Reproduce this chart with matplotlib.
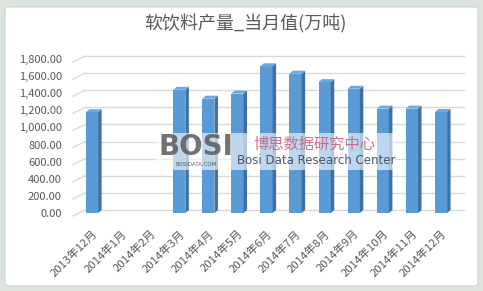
import matplotlib
matplotlib.use("Agg")
import matplotlib.pyplot as plt
import numpy as np
from matplotlib.patches import Polygon, FancyBboxPatch, Rectangle
from matplotlib.transforms import ScaledTranslation

plt.rcParams['font.family'] = ['Noto Sans CJK SC', 'DejaVu Sans']

title = "软饮料产量_当月值(万吨)"
categories = ["2013年12月", "2014年1月", "2014年2月", "2014年3月", "2014年4月",
              "2014年5月", "2014年6月", "2014年7月", "2014年8月", "2014年9月",
              "2014年10月", "2014年11月", "2014年12月"]
values = [1178, np.nan, np.nan, 1440, 1336, 1395, 1715, 1628, 1530, 1452, 1220, 1220, 1180]
yticks = [0, 200, 400, 600, 800, 1000, 1200, 1400, 1600, 1800]

W, H = 483, 291
dpi = 100
fig = plt.figure(figsize=(W / dpi, H / dpi), dpi=dpi, facecolor='#dde4de')

# white card
card = FancyBboxPatch((5 / W, 5 / H), (W - 10) / W, (H - 12) / H,
                      boxstyle="round,pad=0,rounding_size=0.01",
                      transform=fig.transFigure, facecolor='white',
                      edgecolor='#d0d6d0', linewidth=0.8, zorder=-5)
fig.patches.append(card)

def px_box(l, t, r, b):
    return [l / W, 1 - b / H, (r - l) / W, (b - t) / H]

ax = fig.add_axes(px_box(73, 59, 463, 213))
ax.set_zorder(1)
ax.set_facecolor('none')
x = np.arange(len(categories))
ax.set_xlim(-0.653, 12.757)
ax.set_ylim(0, 1800)
for s in ax.spines.values():
    s.set_visible(False)

fig.canvas.draw()
p0 = ax.transData.transform((0, 0))
p1 = ax.transData.transform((1, 1))
sx = p1[0] - p0[0]   # px per x unit
sy = p1[1] - p0[1]   # px per y unit

def dx(px):
    return px / sx

def dy(px):
    return px / sy

# back-wall gridlines with slanted floor-side segments
grid_c = '#d9d9d9'
xl = ax.get_xlim()
for v in yticks:
    ax.plot([xl[0] + dx(12), 12.5 + dx(8)], [v + dy(3), v + dy(3)], color=grid_c, lw=1.0,
            clip_on=False, zorder=1)
    ax.plot([xl[0], xl[0] + dx(12)], [v - dy(3), v + dy(3)], color=grid_c, lw=1.0,
            clip_on=False, zorder=1)

# 3D-ish bars
bw = 0.42
depth_x, depth_y = dx(3.5), dy(3.0)
front_c = '#5b9bd5'
side_c = '#3f71a0'
top_c = '#6fa7dc'
ax.bar(x, values, width=bw, color=front_c, edgecolor='none', zorder=3)
for xi, v in zip(x, values):
    if np.isnan(v):
        continue
    l, r = xi - bw / 2, xi + bw / 2
    side = Polygon([(r, 0), (r + depth_x, depth_y), (r + depth_x, v + depth_y), (r, v)],
                   closed=True, facecolor=side_c, edgecolor='none', zorder=3)
    top = Polygon([(l, v), (l + depth_x, v + depth_y), (r + depth_x, v + depth_y), (r, v)],
                  closed=True, facecolor=top_c, edgecolor='none', zorder=3)
    ax.add_patch(side)
    ax.add_patch(top)

# ticks
ax.set_yticks(yticks)
ax.set_yticklabels([f"{v:,.2f}" for v in yticks], fontsize=8, color='#595959')
off = ScaledTranslation(0, -3 / dpi, fig.dpi_scale_trans)
for lab in ax.get_yticklabels():
    lab.set_transform(lab.get_transform() + off)
ax.tick_params(axis='y', length=0, pad=8)

ax.set_xticks(x)
ax.set_xticklabels(categories, rotation=45, ha='right', va='top',
                   rotation_mode='anchor', fontsize=8.2, color='#595959')
ax.tick_params(axis='x', length=0, pad=11)

# title
fig.text(245 / W, 1 - 24 / H, title, ha='center', va='center', fontsize=13, color='#595959')

# watermark
fig.patches.append(Rectangle((155 / W, 1 - 170 / H), 240 / W, 37 / H, transform=fig.transFigure,
                             facecolor='white', alpha=0.6, edgecolor='none', zorder=5))
fig.text(196 / W, 1 - 147 / H, "BOSI", ha='center', va='center', fontsize=20, fontweight='bold',
         color='#5a5a5a', alpha=0.85, zorder=6, family=['DejaVu Sans'])
fig.text(196 / W, 1 - 165 / H, "BOSIDATA.COM", ha='center', va='center', fontsize=4,
         color='#444444', alpha=0.85, zorder=6, family=['DejaVu Sans'])
fig.text(314 / W, 1 - 144 / H, "博思数据研究中心", ha='center', va='center', fontsize=11,
         color='#c65b78', alpha=0.85, zorder=6)
fig.text(316 / W, 1 - 161 / H, "Bosi Data Research Center", ha='center', va='center', fontsize=8.5,
         color='#2f3d55', alpha=0.85, zorder=6, family=['Liberation Sans Narrow', 'DejaVu Sans'])

fig.savefig("out.png", dpi=dpi, facecolor=fig.get_facecolor())
